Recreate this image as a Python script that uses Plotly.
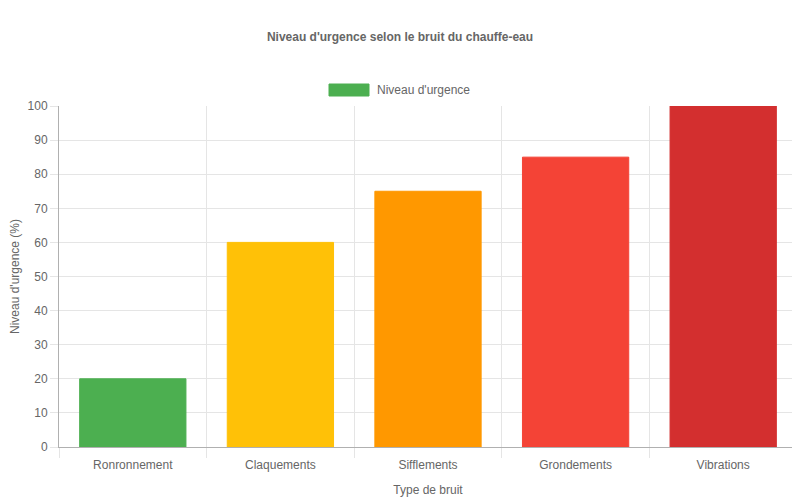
import plotly.graph_objects as go

categories = ['Ronronnement', 'Claquements', 'Sifflements', 'Grondements', 'Vibrations']
urgency = [20, 60, 75, 85, 100]
colors = ['#4CAF50', '#FFC107', '#FF9800', '#F44336', '#D32F2F']

font_color = '#666666'
grid_color = '#e5e5e5'

x_pos = list(range(len(categories)))
boundaries = [i - 0.5 for i in range(len(categories) + 1)]

fig = go.Figure()
fig.add_trace(go.Bar(
    x=x_pos,
    y=urgency,
    name="Niveau d'urgence",
    marker=dict(color=colors, line=dict(color=colors, width=1)),
    showlegend=False,
))

# page has an 8px body margin, so offsets are shifted accordingly
fig.update_layout(
    width=800,
    height=500,
    margin=dict(l=51, r=11, t=98, b=61),
    paper_bgcolor='white',
    plot_bgcolor='white',
    font=dict(family='Liberation Sans, Arial, sans-serif', size=12, color=font_color),
    title=dict(
        text="<b>Niveau d'urgence selon le bruit du chauffe-eau</b>",
        x=0.49, xanchor='center', y=0.942, yanchor='middle',
        font=dict(size=12, color=font_color),
    ),
    bargap=0.28,
)

fig.update_xaxes(
    range=[-0.5, len(categories) - 0.5],
    tickvals=x_pos,
    ticktext=categories,
    showgrid=False,
    ticks='outside', ticklen=7, tickcolor='rgba(0,0,0,0)',
    showline=True, linecolor='#b0b0b0', linewidth=1,
    zeroline=False,
    automargin=False,
    minor=dict(tickvals=boundaries, showgrid=True, gridcolor=grid_color,
               ticks='outside', ticklen=10, tickcolor=grid_color),
    title=dict(text='Type de bruit', standoff=14, font=dict(size=12, color=font_color)),
    tickfont=dict(size=12, color=font_color),
)

fig.update_yaxes(
    range=[0, 100],
    dtick=10,
    showgrid=True, gridcolor=grid_color,
    ticks='outside', ticklen=8, tickcolor=grid_color,
    showline=True, linecolor='#b0b0b0', linewidth=1,
    zeroline=False,
    automargin=False,
    title=dict(text="Niveau d'urgence (%)", standoff=6, font=dict(size=12, color=font_color)),
    tickfont=dict(size=12, color=font_color),
)

# Chart.js-style legend box
fig.add_shape(type='rect', xref='paper', yref='paper',
              x0=(329 - 59) / 738, x1=(369 - 59) / 738,
              y0=1 + (106 - 96) / 341, y1=1 + (106 - 84) / 341,
              fillcolor=colors[0], line=dict(color=colors[0], width=1))
fig.add_annotation(xref='paper', yref='paper',
                   x=(375 - 59) / 738, y=1 + (106 - 90) / 341,
                   xanchor='left', yanchor='middle', showarrow=False,
                   text="Niveau d'urgence", font=dict(size=12, color=font_color))

fig.write_html('out.html')
